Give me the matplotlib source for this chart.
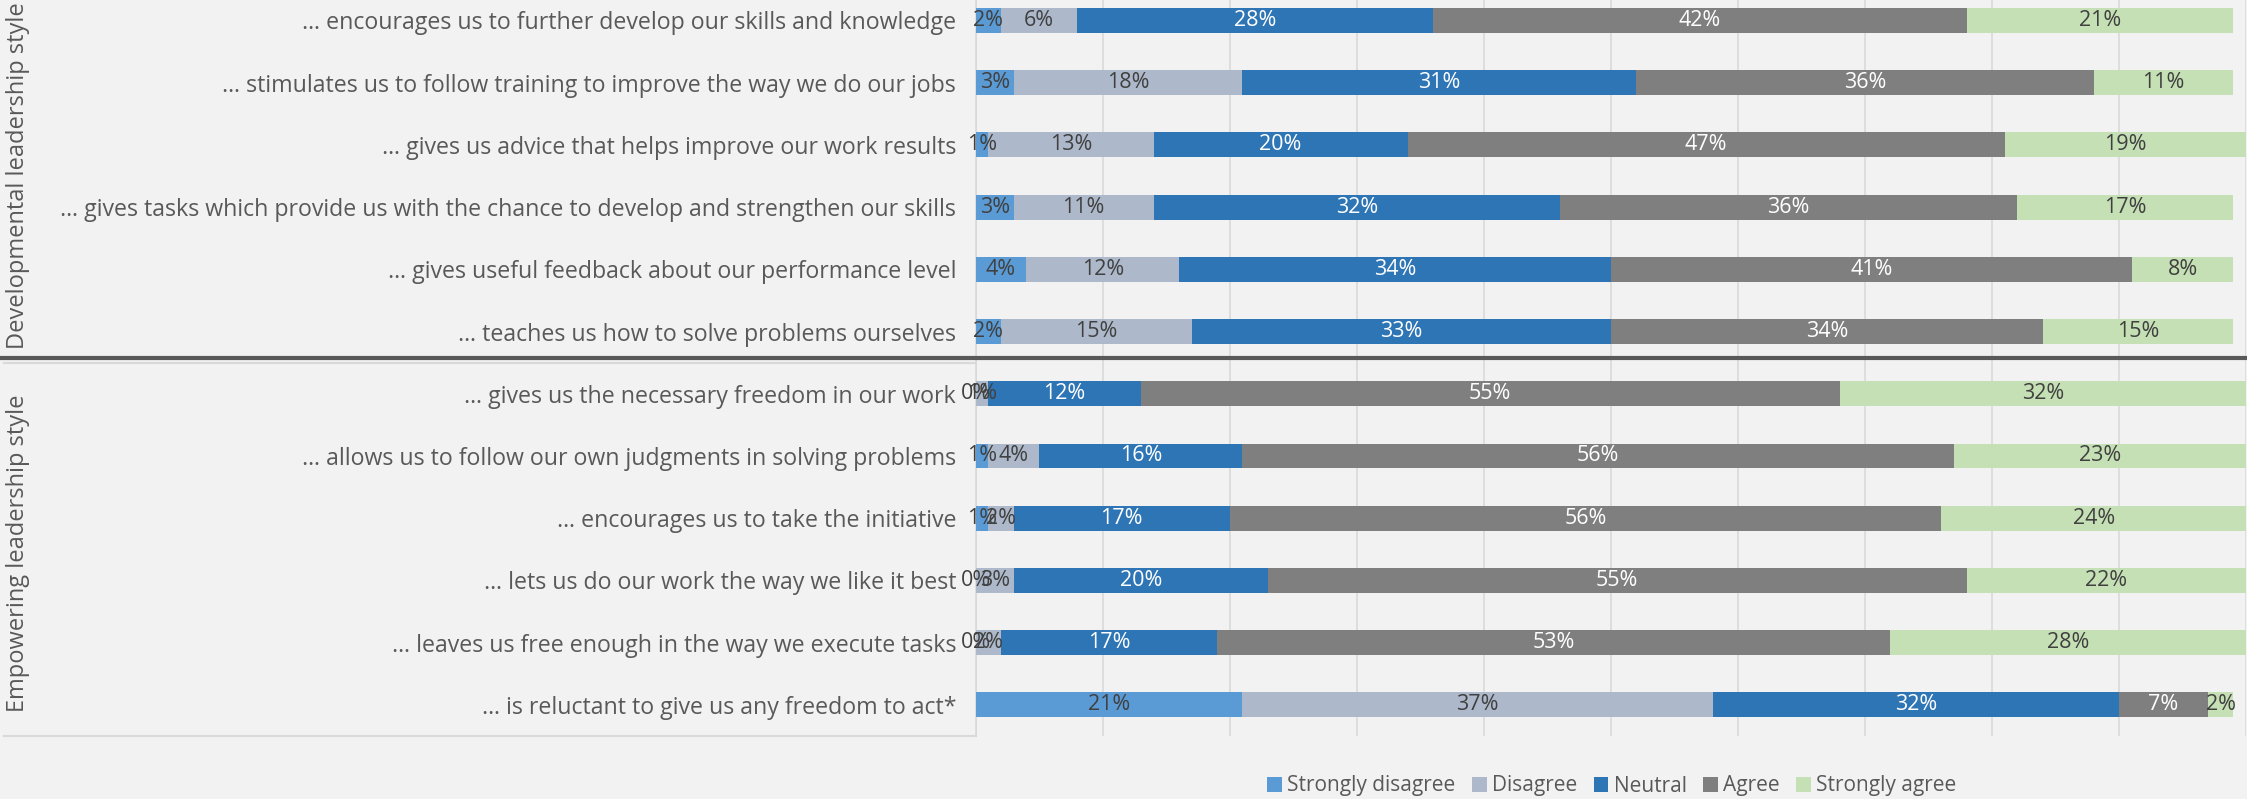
import matplotlib
matplotlib.use("Agg")
import matplotlib.pyplot as plt
from matplotlib import transforms
from matplotlib.lines import Line2D
import numpy as np

plt.rcParams['font.family'] = ['Open Sans', 'DejaVu Sans']

items = [
    "… encourages us to further develop our skills and knowledge",
    "… stimulates us to follow training to improve the way we do our jobs",
    "… gives us advice that helps improve our work results",
    "… gives tasks which provide us with the chance to develop and strengthen our skills",
    "… gives useful feedback about our performance level",
    "… teaches us how to solve problems ourselves",
    "… gives us the necessary freedom in our work",
    "… allows us to follow our own judgments in solving problems",
    "… encourages us to take the initiative",
    "… lets us do our work the way we like it best",
    "… leaves us free enough in the way we execute tasks",
    "… is reluctant to give us any freedom to act*",
]
groups = ["Developmental leadership style", "Empowering leadership style"]

answers = ["Strongly disagree", "Disagree", "Neutral", "Agree", "Strongly agree"]
strongly_disagree = [2, 3, 1, 3, 4, 2, 0, 1, 1, 0, 0, 21]
disagree = [6, 18, 13, 11, 12, 15, 1, 4, 2, 3, 2, 37]
neutral = [28, 31, 20, 32, 34, 33, 12, 16, 17, 20, 17, 32]
agree = [42, 36, 47, 36, 41, 34, 55, 56, 56, 55, 53, 7]
strongly_agree = [21, 11, 19, 17, 8, 15, 32, 23, 24, 22, 28, 2]

colors = ["#5B9BD5", "#ADB9CA", "#2E75B6", "#7F7F7F", "#C5E0B4"]
label_colors = ["#404040", "#404040", "white", "white", "#404040"]
bg = "#F2F2F2"

fig = plt.figure(figsize=(22.47, 7.99), dpi=100, facecolor=bg)
# top of plot area runs a little past the figure edge
ax = fig.add_axes([0.4342, 0.0789, 0.5654, 0.9344])
ax.set_facecolor(bg)

y = np.arange(len(items))
left = np.zeros(len(items))
series = [strongly_disagree, disagree, neutral, agree, strongly_agree]
for vals, name, c, tc in zip(series, answers, colors, label_colors):
    vals = np.array(vals, dtype=float)
    bars = ax.barh(y, vals, left=left, height=0.4, color=c, label=name, zorder=3)
    ax.bar_label(bars, labels=[f"{int(v)}%" for v in vals], label_type="center",
                 color=tc, fontsize=15.5, zorder=4)
    left += vals

ax.set_xlim(0, 100)
ax.set_ylim(11.5, -0.5)
ax.set_xticks(np.arange(0, 101, 10))
ax.xaxis.grid(True, color="#D9D9D9", linewidth=1.2, zorder=0)
ax.tick_params(axis="x", length=0, labelbottom=False)
ax.set_yticks(y)
ax.set_yticklabels(items, fontsize=16.7, color="#595959")
ax.tick_params(axis="y", length=0, pad=14)
for s in ["top", "right", "bottom"]:
    ax.spines[s].set_visible(False)
ax.spines["left"].set_color("#D9D9D9")
ax.spines["left"].set_linewidth(1.2)

# group separators in the label area
trans = transforms.blended_transform_factory(fig.transFigure, ax.transData)
for yy in [5.5, 11.5]:
    fig.add_artist(Line2D([0.002, 0.4342], [yy, yy], transform=trans,
                          color="#D9D9D9", linewidth=1.5))
fig.add_artist(Line2D([0, 1], [5.42, 5.42], transform=trans,
                      color="#595959", linewidth=3))

# group names
fig.text(0.0078, 1 - 176 / 799, groups[0], rotation=90, ha="center", va="center",
         fontsize=17, color="#595959")
fig.text(0.0078, 1 - 553 / 799, groups[1], rotation=90, ha="center", va="center",
         fontsize=17, color="#595959")

fig.legend(loc="center", bbox_to_anchor=(1612 / 2247, 1 - 786 / 799), ncol=5,
           frameon=False, fontsize=15, labelcolor="#595959",
           handlelength=0.7, handleheight=0.7, handletextpad=0.25,
           columnspacing=0.8)

fig.savefig("out.png", dpi=100, facecolor=bg)
